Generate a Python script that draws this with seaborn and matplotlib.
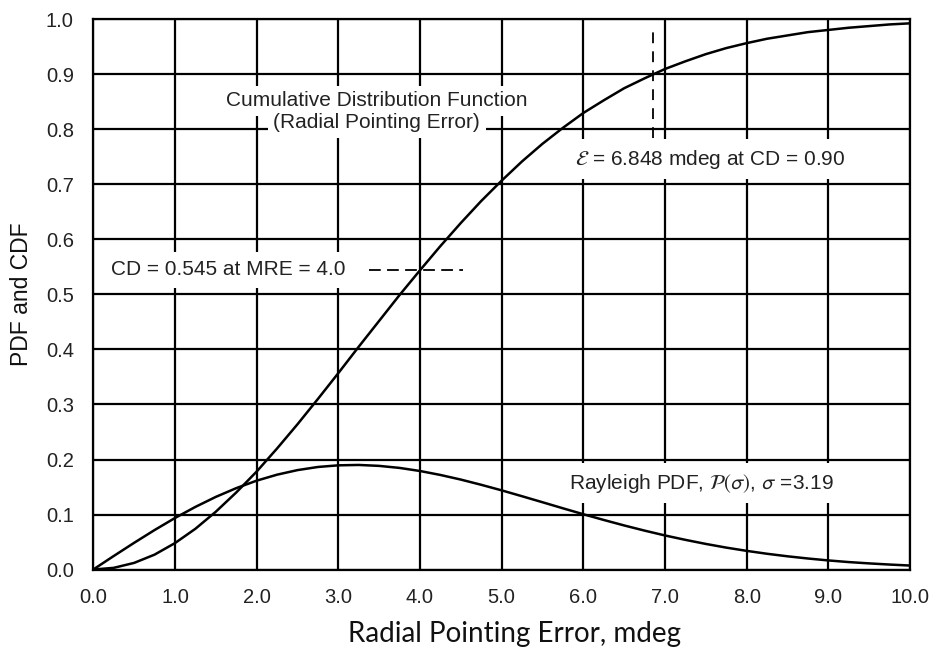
import matplotlib
matplotlib.use("Agg")
import matplotlib.pyplot as plt
import seaborn as sns
import pandas as pd

# Radial pointing error (mdeg) sample positions
error_mdeg = [0.0, 0.25, 0.5, 0.75, 1.0, 1.25, 1.5, 1.75, 2.0, 2.25, 2.5, 2.75,
              3.0, 3.25, 3.5, 3.75, 4.0, 4.25, 4.5, 4.75, 5.0, 5.25, 5.5, 5.75,
              6.0, 6.25, 6.5, 6.75, 7.0, 7.25, 7.5, 7.75, 8.0, 8.25, 8.5, 8.75,
              9.0, 9.25, 9.5, 9.75, 10.0]

# Rayleigh probability density, sigma = 3.19
pdf_values = [0.0, 0.0245, 0.0485, 0.0717, 0.0936, 0.1138, 0.1320, 0.1479,
              0.1615, 0.1724, 0.1807, 0.1864, 0.1894, 0.1901, 0.1884, 0.1847,
              0.1791, 0.1719, 0.1635, 0.1540, 0.1439, 0.1332, 0.1223, 0.1113,
              0.1005, 0.0901, 0.0801, 0.0707, 0.0619, 0.0539, 0.0465, 0.0398,
              0.0339, 0.0286, 0.0240, 0.0200, 0.0165, 0.0135, 0.0111, 0.0090,
              0.0072]

# Cumulative distribution
cdf_values = [0.0, 0.003, 0.012, 0.027, 0.048, 0.074, 0.105, 0.140, 0.178,
              0.220, 0.264, 0.310, 0.357, 0.405, 0.452, 0.499, 0.544, 0.588,
              0.630, 0.670, 0.707, 0.742, 0.774, 0.803, 0.830, 0.853, 0.875,
              0.893, 0.910, 0.924, 0.937, 0.948, 0.957, 0.965, 0.971, 0.977,
              0.981, 0.985, 0.988, 0.991, 0.993]

x_ticks = [0.0, 1.0, 2.0, 3.0, 4.0, 5.0, 6.0, 7.0, 8.0, 9.0, 10.0]
y_ticks = [0.0, 0.1, 0.2, 0.3, 0.4, 0.5, 0.6, 0.7, 0.8, 0.9, 1.0]

# Reference markers
mre_value = 4.0
cd_at_mre = 0.545
eps_90 = 6.848
cd_90 = 0.90

sns.set_theme(style="white")
plt.rcParams["font.family"] = ["Liberation Sans", "DejaVu Sans"]
plt.rcParams["mathtext.fontset"] = "stixsans"

df = pd.DataFrame({"err": error_mdeg, "pdf": pdf_values, "cdf": cdf_values})

fig = plt.figure(figsize=(9.3, 6.54), dpi=100)
ax = fig.add_axes([0.1003, 0.1292, 0.8782, 0.8410])

ax.set_axisbelow(True)
ax.grid(True, color="black", linewidth=1.6)

sns.lineplot(data=df, x="err", y="cdf", color="black", linewidth=1.8,
             ax=ax, sort=False, zorder=2)
sns.lineplot(data=df, x="err", y="pdf", color="black", linewidth=1.8,
             ax=ax, sort=False, zorder=2)

ax.set_xlim(0, 10)
ax.set_ylim(0, 1)
ax.set_xticks(x_ticks)
ax.set_yticks(y_ticks)
ax.set_xticklabels([f"{v:.1f}" for v in x_ticks])
ax.set_yticklabels([f"{v:.1f}" for v in y_ticks])
ax.tick_params(axis="both", direction="out", length=5, width=1.5,
               color="black", labelsize=14.5, labelcolor="#222222")
ax.tick_params(axis="x", pad=8)
ax.tick_params(axis="y", pad=9)
for s in ax.spines.values():
    s.set_color("black")
    s.set_linewidth(1.6)

ax.set_ylabel("PDF and CDF", fontsize=16.5, color="#111111", labelpad=9)
ax.set_xlabel("Radial Pointing Error, mdeg", fontsize=20, color="#111111",
              family=["Lato", "DejaVu Sans"])
ax.xaxis.set_label_coords(0.516, -0.094)

box = dict(facecolor="white", edgecolor="none", pad=4)
txt = dict(fontsize=15, color="#222222", zorder=4)

ax.text(3.47, 0.852, "Cumulative Distribution Function", ha="center",
        va="center", bbox=box, **txt)
ax.text(3.47, 0.812, "(Radial Pointing Error)", ha="center", va="center",
        bbox=box, **txt)

ax.text(1.65, cd_at_mre, f"CD = {cd_at_mre} at MRE = {mre_value:.1f}",
        ha="center", va="center", bbox=dict(facecolor="white",
        edgecolor="none", pad=6), **txt)
sns.lineplot(x=[3.37, 4.53], y=[cd_at_mre, cd_at_mre], color="black",
             linewidth=1.3, linestyle=(0, (6.5, 3.5)), ax=ax)

sns.lineplot(x=[eps_90, eps_90], y=[0.785, 0.98], color="black",
             linewidth=1.3, linestyle=(0, (6, 4.5)), ax=ax, orient="y")
ax.text(7.55, 0.746, rf"$\mathcal{{E}}$ = {eps_90} mdeg at CD = {cd_90:.2f}",
        ha="center", va="center", bbox=dict(facecolor="white",
        edgecolor="none", pad=6), **txt)

ax.text(7.44, 0.157, r"Rayleigh PDF, $\mathcal{P}(\sigma)$, $\sigma$ =3.19",
        ha="center", va="center", bbox=dict(facecolor="white",
        edgecolor="none", pad=6), **txt)

fig.savefig("out.png", dpi=100, facecolor="white")
